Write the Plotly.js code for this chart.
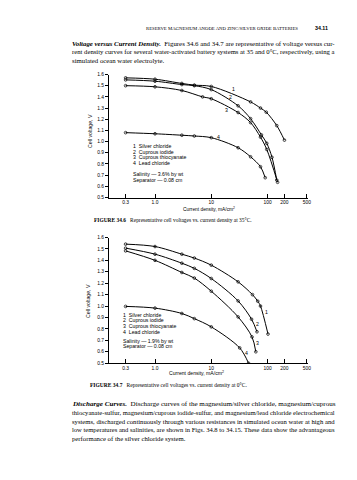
<!DOCTYPE html>
<html><head><meta charset="utf-8">
<script src="https://cdn.plot.ly/plotly-3.0.1.min.js"></script>
<style>html,body{margin:0;padding:0;background:#fff;}#chart{width:357px;height:480px;}</style>
</head><body><div id="chart"></div>
<script>
// ---------- data ----------
const curveLabels = ['1', '2', '3', '4'];
const legendNames = ['Silver chloride', 'Cuprous iodide', 'Cuprous thiocyanate', 'Lead chloride'];
const xTickVals = [0.3, 1, 10, 100, 200, 500];
const xTickText = ['0.3', '1.0', '10', '100', '200', '500'];
const yTickVals = [0.5, 0.6, 0.7, 0.8, 0.9, 1.0, 1.1, 1.2, 1.3, 1.4, 1.5, 1.6];
const yTickText = ['0.5', '0.6', '0.7', '0.8', '0.9', '1.0', '1.1', '1.2', '1.3', '1.4', '1.5', '1.6'];

// Figure 34.6 (35°C, salinity 3.6%)
const f6_x1 = [0.3, 1, 3, 5, 10, 50, 75, 95, 146, 200];
const f6_v1 = [1.57, 1.558, 1.52, 1.505, 1.493, 1.355, 1.30, 1.263, 1.143, 1.013];
const f6_x2 = [0.3, 1, 3, 5, 10, 30, 50, 78, 97, 120, 146];
const f6_v2 = [1.552, 1.54, 1.51, 1.50, 1.465, 1.32, 1.205, 1.06, 0.985, 0.86, 0.656];
const f6_x3 = [0.3, 1, 3, 7, 10, 30, 50, 75, 97, 151];
const f6_v3 = [1.50, 1.49, 1.457, 1.40, 1.383, 1.26, 1.17, 1.04, 0.93, 0.636];
const f6_x4 = [0.3, 1, 3, 5, 10, 30, 50, 75, 91];
const f6_v4 = [1.08, 1.07, 1.057, 1.05, 1.035, 0.945, 0.864, 0.775, 0.677];

// Figure 34.7 (0°C, salinity 1.9%)
const f7_x1 = [0.3, 1, 3, 5, 10, 30, 54, 67, 75, 102];
const f7_v1 = [1.542, 1.521, 1.454, 1.42, 1.358, 1.212, 1.10, 1.043, 1.0, 0.755];
const f7_x2 = [0.3, 1, 3, 5, 10, 30, 52, 65];
const f7_v2 = [1.507, 1.454, 1.375, 1.33, 1.241, 1.045, 0.885, 0.775];
const f7_x3 = [0.3, 1, 3, 5, 10, 30, 53, 62];
const f7_v3 = [1.483, 1.40, 1.294, 1.245, 1.13, 0.905, 0.73, 0.60];
const f7_x4 = [0.3, 1, 3, 5, 10, 32, 46];
const f7_v4 = [0.997, 0.982, 0.935, 0.89, 0.818, 0.634, 0.50];

// ---------- helpers ----------
const W = 357, H = 480;
const PX = p => p / W;
const PY = p => 1 - p / H;
const SANS = 'Liberation Sans, Arial, sans-serif';
const SERIF = 'Liberation Serif, Times New Roman, serif';
const TICK = 4.9, LEG = 5.2;

// text width measurement (to fit text runs to widths read from the page)
const ctx = document.createElement('canvas').getContext('2d');
function unitWidth(segs, family) {
  let w = 0;
  segs.forEach(s => {
    ctx.font = (s.i ? 'italic ' : '') + (s.b ? 'bold ' : '') + '100px ' + family;
    w += ctx.measureText(s.t).width;
  });
  return w / 100;
}
function fit(segs, family, target) { return target / unitWidth(segs, family); }
function html(segs) {
  return segs.map(s => {
    let t = s.t;
    if (s.i) t = '<i>' + t + '</i>';
    if (s.b) t = '<b>' + t + '</b>';
    return t;
  }).join('');
}

function curve(x, y, xa, ya) {
  return {
    x: x, y: y, xaxis: xa, yaxis: ya, type: 'scatter', mode: 'lines+markers',
    line: {color: '#000', width: 1, shape: 'spline', smoothing: 0.9},
    marker: {symbol: 'circle-open', size: 2.7, color: '#000', line: {color: '#000', width: 0.7}},
    hoverinfo: 'skip', showlegend: false
  };
}

const data = [
  curve(f6_x1, f6_v1, 'x', 'y'), curve(f6_x2, f6_v2, 'x', 'y'),
  curve(f6_x3, f6_v3, 'x', 'y'), curve(f6_x4, f6_v4, 'x', 'y'),
  curve(f7_x1, f7_v1, 'x2', 'y2'), curve(f7_x2, f7_v2, 'x2', 'y2'),
  curve(f7_x3, f7_v3, 'x2', 'y2'), curve(f7_x4, f7_v4, 'x2', 'y2')
];

function xAxis(anchor) {
  return {
    type: 'log', domain: [PX(109), PX(308.3)], range: [-0.818, 2.725], anchor: anchor,
    tickmode: 'array', tickvals: xTickVals, ticktext: xTickText,
    ticks: 'inside', ticklen: 4, tickwidth: 1, tickcolor: '#000',
    showline: true, linecolor: '#000', linewidth: 1, mirror: false,
    showgrid: false, zeroline: false, tickfont: {family: SANS, size: TICK, color: '#000'},
    fixedrange: true
  };
}
function yAxis(anchor, top, bottom) {
  return {
    domain: [PY(bottom), PY(top)], range: [0.5, 1.6], anchor: anchor,
    tickmode: 'array', tickvals: yTickVals, ticktext: yTickText,
    ticks: 'outside', ticklen: 3, tickwidth: 1, tickcolor: '#000',
    showline: true, linecolor: '#000', linewidth: 1, mirror: false,
    showgrid: false, zeroline: false, tickfont: {family: SANS, size: TICK, color: '#000'},
    fixedrange: true
  };
}

const ann = [];
function txt(text, px, py, opts) {
  opts = opts || {};
  ann.push({
    text: text, xref: 'paper', yref: 'paper', x: PX(px), y: PY(py),
    xanchor: opts.xa || 'left', yanchor: 'middle', showarrow: false,
    textangle: opts.angle || 0,
    font: {family: opts.family || SERIF, size: opts.size || 6.3, color: '#000'}
  });
}
function dlabel(text, x, y, xa, ya) {
  ann.push({text: text, xref: xa, yref: ya, x: Math.log10(x), y: y, showarrow: false,
    xanchor: 'center', yanchor: 'middle', font: {family: SANS, size: LEG, color: '#000'}});
}

// ---- page header ----
const hdr = [{t: 'RESERVE MAGNESIUM ANODE AND ZINC/SILVER OXIDE BATTERIES'}];
txt(html(hdr), 300, 28.5, {xa: 'right', size: fit(hdr, SERIF, 153)});
const pg = [{t: '34.11', b: true}];
txt(html(pg), 330, 28.5, {xa: 'right', family: SANS, size: fit(pg, SANS, 13)});

// ---- paragraphs ----
function paragraph(lines, top, lead) {
  const sizes = lines.map(l => fit(l, SERIF, 263));
  const full = sizes.slice(0, lines.length - 1);
  const avg = full.reduce((a, b) => a + b, 0) / full.length;
  lines.forEach((l, i) => {
    const s = (i < lines.length - 1) ? sizes[i] : avg;
    txt(html(l), 70, top + lead * i, {size: s});
  });
}
const topLines = [
  [{t: 'Voltage versus Current Density.', b: true, i: true}, {t: '\u00a0\u00a0Figures 34.6 and 34.7 are representative of voltage versus cur-'}],
  [{t: 'rent density curves for several water-activated battery systems at 35 and 0\u00b0C, respectively, using a'}],
  [{t: 'simulated ocean water electrolyte.'}]
];
paragraph(topLines, 43, 8.5);

const botLines = [
  [{t: 'Discharge Curves.', b: true, i: true}, {t: '\u00a0\u00a0Discharge curves of the magnesium/silver chloride, magnesium/cuprous'}],
  [{t: 'thiocyanate-sulfur, magnesium/cuprous iodide-sulfur, and magnesium/lead chloride electrochemical'}],
  [{t: 'systems, discharged continuously through various resistances in simulated ocean water at high and'}],
  [{t: 'low temperatures and salinities, are shown in Figs. 34.8 to 34.15. These data show the advantageous'}],
  [{t: 'performance of the silver chloride system.'}]
];
paragraph(botLines, 404, 8.5);

// ---- figure 34.6 ----
txt('Cell voltage, V', 89.5, 131.5, {xa: 'center', angle: -90, family: SANS, size: LEG});
legendNames.forEach((n, i) => txt(curveLabels[i] + '\u00a0\u00a0' + n, 131, 145.7 + 5.8 * i, {family: SANS, size: LEG}));
txt('Salinity \u2014 3.6% by wt', 131, 174, {family: SANS, size: LEG});
txt('Separator \u2014 0.08 cm', 131, 179.7, {family: SANS, size: LEG});
const xt = [{t: 'Current density, mA/cm2'}];
txt('Current density, mA/cm<sup>2</sup>', 208.5, 209.3, {xa: 'center', family: SANS, size: fit(xt, SANS, 53)});
const cap6 = [{t: 'FIGURE 34.6', b: true}, {t: '\u00a0\u00a0\u00a0Representative cell voltages vs. current density at 35\u00b0C.'}];
txt(html(cap6), 92, 220, {size: fit(cap6, SERIF, 158)});
dlabel('1', 24.7, 1.468, 'x', 'y');
dlabel('2', 22.2, 1.40, 'x', 'y');
dlabel('3', 18.3, 1.281, 'x', 'y');
dlabel('4', 13.3, 1.04, 'x', 'y');

// ---- figure 34.7 ----
txt('Cell voltage, V', 88, 301, {xa: 'center', angle: -90, family: SANS, size: LEG});
legendNames.forEach((n, i) => txt(curveLabels[i] + '\u00a0\u00a0' + n, 121, 314.5 + 5.75 * i, {family: SANS, size: LEG}));
txt('Salinity \u2014 1.9% by wt', 121, 340.8, {family: SANS, size: LEG});
txt('Separator \u2014 0.08 cm', 121, 346.2, {family: SANS, size: LEG});
txt('Current density, mA/cm<sup>2</sup>', 196, 373, {xa: 'center', family: SANS, size: fit(xt, SANS, 56)});
const cap7 = [{t: 'FIGURE 34.7', b: true}, {t: '\u00a0\u00a0\u00a0Representative cell voltages vs. current density at 0\u00b0C.'}];
txt(html(cap7), 88, 384.5, {size: fit(cap7, SERIF, 157)});
dlabel('1', 96.8, 0.949, 'x2', 'y2');
dlabel('2', 67, 0.841, 'x2', 'y2');
dlabel('3', 67, 0.681, 'x2', 'y2');
dlabel('4', 42.7, 0.592, 'x2', 'y2');

const layout = {
  width: W, height: H, margin: {l: 0, r: 0, t: 0, b: 0, pad: 0},
  paper_bgcolor: '#fff', plot_bgcolor: 'rgba(0,0,0,0)',
  font: {family: SANS, color: '#000'},
  showlegend: false,
  xaxis: xAxis('y'), yaxis: yAxis('x', 74.5, 197.5),
  xaxis2: xAxis('y2'), yaxis2: yAxis('x2', 237.5, 363.2),
  annotations: ann
};

Plotly.newPlot('chart', data, layout, {staticPlot: true, displayModeBar: false});
</script>
</body></html>
